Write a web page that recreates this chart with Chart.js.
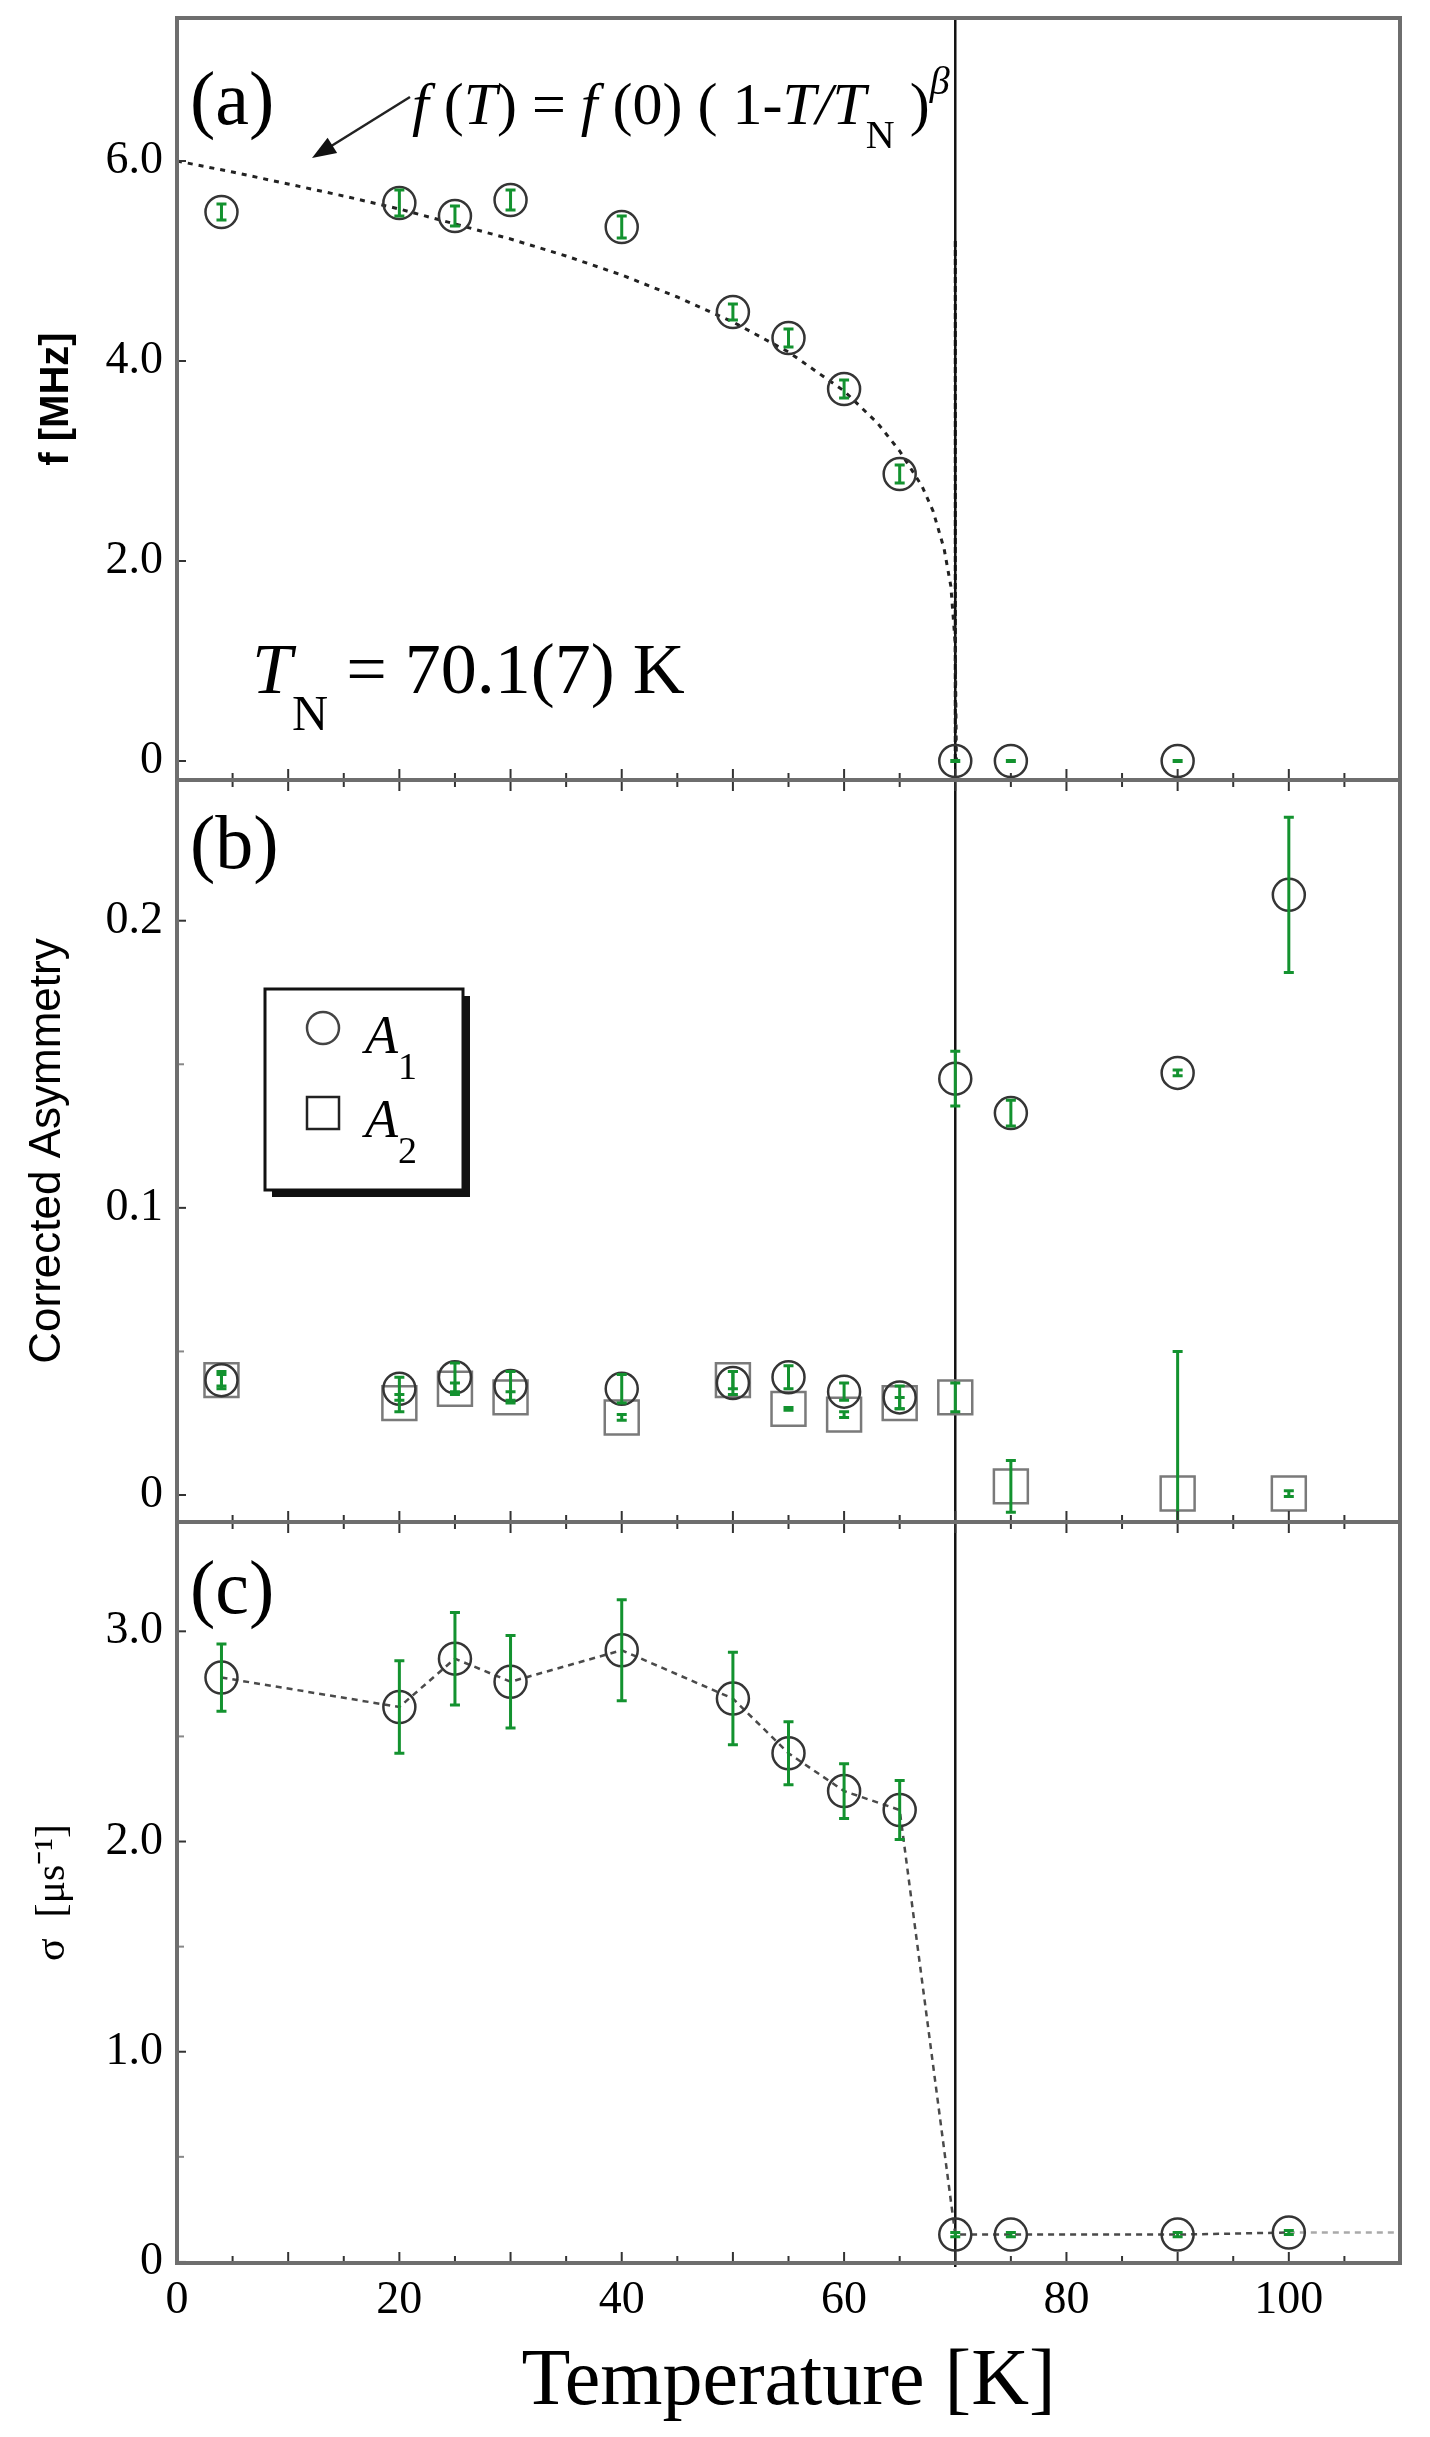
<!DOCTYPE html>
<html>
<head>
<meta charset="utf-8">
<script src="https://cdn.jsdelivr.net/npm/chart.js@4.4.1/dist/chart.umd.min.js"></script>
<style>
  body { margin: 0; background: #fff; }
  #wrap { position: relative; width: 1430px; height: 2437px; }
  canvas { position: absolute; left: 0; }
</style>
</head>
<body>
<div id="wrap">
  <canvas id="chartA" width="1430" height="790" style="top:0px"></canvas>
  <canvas id="chartB" width="1430" height="762" style="top:770px"></canvas>
  <canvas id="chartC" width="1430" height="925" style="top:1512px"></canvas>
</div>
<script>
// ---- values ----
// (a) precession frequency
const tempF = [4, 20, 25, 30, 40, 50, 55, 60, 65, 70, 75, 90];
const freqF = [5.49, 5.58, 5.45, 5.61, 5.34, 4.49, 4.23, 3.72, 2.87, 0.0, 0.0, 0.0];
const freqErr = [0.08, 0.13, 0.10, 0.10, 0.11, 0.08, 0.09, 0.09, 0.09, 0.004, 0.004, 0.004];
// dashed fit curve f(T) = f(0)(1-T/TN)^beta
const fitT = [0, 5, 10, 15, 20, 25, 30, 35, 40, 45, 50, 55, 60, 63, 65, 67, 68, 69, 69.6, 70, 70.1];
const fitF = [6.0, 5.89, 5.77, 5.65, 5.52, 5.37, 5.22, 5.05, 4.86, 4.64, 4.39, 4.09, 3.70, 3.38, 3.10, 2.75, 2.50, 2.12, 1.75, 1.17, 0];
const fitDropT = [70, 70];
const fitDropF = [5.2, 0];

// (b) corrected asymmetry
const tempA = [4, 20, 25, 30, 40, 50, 55, 60, 65, 70, 75, 90, 100];
const asymA1 = [0.040, 0.037, 0.041, 0.038, 0.037, 0.039, 0.041, 0.036, 0.034, 0.145, 0.133, 0.147, 0.209];
const asymA1Err = [0.003, 0.004, 0.005, 0.005, 0.005, 0.004, 0.004, 0.003, 0.004, 0.0095, 0.0045, 0.001, 0.027];
const asymA2 = [0.040, 0.032, 0.037, 0.034, 0.027, 0.040, 0.030, 0.028, 0.032, 0.034, 0.003, 0.0005, 0.0005];
const asymA2Err = [0.002, 0.003, 0.002, 0.002, 0.001, 0.003, 0.0005, 0.001, 0.002, 0.005, 0.009, 0.0495, 0.001];

// (c) relaxation rate sigma
const tempS = [4, 20, 25, 30, 40, 50, 55, 60, 65, 70, 75, 90, 100];
const sigma = [2.78, 2.64, 2.87, 2.76, 2.91, 2.68, 2.42, 2.24, 2.15, 0.13, 0.13, 0.13, 0.14];
const sigmaErr = [0.16, 0.22, 0.22, 0.22, 0.24, 0.22, 0.15, 0.13, 0.14, 0.01, 0.01, 0.01, 0.01];
const sigmaTailT = [100, 110];
const sigmaTailV = [0.14, 0.14];

// axes
const xTickVals = [0, 20, 40, 60, 80, 100];
const xTickMarks = [5, 10, 15, 20, 25, 30, 35, 40, 45, 50, 55, 60, 65, 70, 75, 80, 85, 90, 95, 100, 105];
const yTicksF = [0, 2, 4, 6];
const yTicksA = [0, 0.1, 0.2];
const yMinorA = [0.05, 0.15];
const yTicksS = [0, 1, 2, 3];
const yMinorS = [0.5, 1.5, 2.5];
const neelT = 70;

const errColor = '#13922f';
const pts = (xs, ys) => xs.map((x, i) => ({x: x, y: ys[i]}));

Chart.defaults.font.family = '"Liberation Serif", "Times New Roman", serif';
Chart.defaults.color = '#000';
Chart.defaults.animation = false;

// box, inside ticks and the vertical line at T_N
const framePlugin = {
  id: 'frame',
  beforeDatasetsDraw(chart, args, opts) {
    const {ctx, chartArea: a, scales: {x}} = chart;
    const px = x.getPixelForValue(neelT);
    ctx.save();
    ctx.strokeStyle = '#111';
    ctx.lineWidth = 2.5;
    ctx.beginPath();
    ctx.moveTo(px, a.top);
    ctx.lineTo(px, a.bottom + (opts.lineExtra || 0));
    ctx.stroke();
    ctx.restore();
  },
  afterDraw(chart, args, opts) {
    const {ctx, chartArea: a, scales: {x, y}} = chart;
    ctx.save();
    ctx.strokeStyle = '#333';
    ctx.lineWidth = 2;
    xTickMarks.forEach(v => {
      const px = x.getPixelForValue(v);
      const len = v % 10 === 0 ? 11 : 7;
      ctx.beginPath();
      ctx.moveTo(px, a.bottom);
      ctx.lineTo(px, a.bottom - len);
      if (opts.topTicks) {
        ctx.moveTo(px, a.top);
        ctx.lineTo(px, a.top + len);
      }
      ctx.stroke();
    });
    (opts.yMajor || []).forEach(v => {
      const py = y.getPixelForValue(v);
      ctx.beginPath(); ctx.moveTo(a.left, py); ctx.lineTo(a.left + 9, py); ctx.stroke();
    });
    ctx.strokeStyle = '#888';
    (opts.yMinor || []).forEach(v => {
      const py = y.getPixelForValue(v);
      ctx.beginPath(); ctx.moveTo(a.left, py); ctx.lineTo(a.left + 7, py); ctx.stroke();
    });
    ctx.strokeStyle = '#6e6e6e';
    ctx.lineWidth = 4;
    ctx.strokeRect(a.left, a.top, a.right - a.left, a.bottom - a.top);
    ctx.restore();
  }
};

const errorBarPlugin = {
  id: 'errorBars',
  afterDatasetsDraw(chart) {
    const {ctx, chartArea: a} = chart;
    ctx.save();
    ctx.beginPath();
    ctx.rect(a.left, a.top, a.right - a.left, a.bottom - a.top);
    ctx.clip();
    ctx.strokeStyle = errColor;
    ctx.lineWidth = 3;
    chart.data.datasets.forEach((ds, di) => {
      if (!ds.errors) return;
      const meta = chart.getDatasetMeta(di);
      const xs = chart.scales[meta.xAxisID], ys = chart.scales[meta.yAxisID];
      ds.data.forEach((p, i) => {
        const e = ds.errors[i];
        const px = xs.getPixelForValue(p.x);
        const top = ys.getPixelForValue(p.y + e);
        const bot = ys.getPixelForValue(p.y - e);
        ctx.beginPath();
        ctx.moveTo(px, top); ctx.lineTo(px, bot);
        ctx.moveTo(px - 5, top); ctx.lineTo(px + 5, top);
        ctx.moveTo(px - 5, bot); ctx.lineTo(px + 5, bot);
        ctx.stroke();
      });
    });
    ctx.restore();
  }
};

// text runs: [{t, font, dy}]
function drawRuns(ctx, x, y, runs) {
  runs.forEach(r => {
    ctx.font = r.font;
    ctx.fillText(r.t, x, y + (r.dy || 0));
    x += ctx.measureText(r.t).width;
  });
}

const textPlugin = {
  id: 'notes',
  afterDraw(chart, args, opts) {
    const ctx = chart.ctx;
    ctx.save();
    ctx.fillStyle = '#000';
    ctx.textBaseline = 'alphabetic';
    ctx.textAlign = 'left';
    if (opts.draw) opts.draw(ctx);
    ctx.restore();
  }
};

const SERIF = '"Liberation Serif"';
const it = s => 'italic ' + s + 'px ' + SERIF;
const up = s => s + 'px ' + SERIF;

function circleSet(data, errors) {
  return {
    data: data, errors: errors, order: 0,
    pointStyle: 'circle', pointRadius: 16, pointHoverRadius: 16,
    pointBorderColor: '#353535', pointBorderWidth: 2.5,
    pointBackgroundColor: 'rgba(0,0,0,0)', showLine: false
  };
}

function makeChart(id, datasets, yOpts, xOpts, padding, plugOpts) {
  return new Chart(document.getElementById(id), {
    type: 'scatter',
    data: {datasets: datasets},
    options: {
      responsive: false,
      layout: {padding: padding, autoPadding: false},
      plugins: {
        legend: {display: false},
        tooltip: {enabled: false},
        frame: plugOpts.frame,
        notes: plugOpts.notes
      },
      scales: {x: xOpts, y: yOpts}
    },
    plugins: [framePlugin, errorBarPlugin, textPlugin]
  });
}

const hiddenX = {type: 'linear', min: 0, max: 110, display: false};
const fmt = v => v === 0 ? '0' : v.toFixed(1);
function yAxis(min, max, vals, title) {
  return {
    type: 'linear', min: min, max: max,
    afterBuildTicks: s => { s.ticks = vals.map(v => ({value: v})); },
    afterFit: s => { s.width = 177; s.paddingTop = 0; s.paddingBottom = 0; },
    grid: {display: false, drawTicks: false},
    border: {display: false},
    ticks: {font: {size: 46}, padding: 14, callback: v => fmt(v)},
    title: title
  };
}

// ---- (a) ----
makeChart('chartA', [
  circleSet(pts(tempF, freqF), freqErr),
  {data: pts(fitT, fitF), showLine: true, order: 1, borderColor: '#222', borderWidth: 3,
   borderDash: [5, 6], pointRadius: 0, tension: 0},
  {data: pts(fitDropT, fitDropF), showLine: true, order: 1, borderColor: '#111', borderWidth: 3,
   borderDash: [6, 3], pointRadius: 0}
], yAxis(-0.19, 7.43, yTicksF, {display: true, text: 'f [MHz]',
   font: {family: '"Liberation Sans"', size: 40, weight: 'bold'}, padding: {top: 33, bottom: 0}}),
   hiddenX, {top: 18, bottom: 10, left: 0, right: 30},
{
  frame: {yMajor: yTicksF, topTicks: false},
  notes: {draw: ctx => {
    ctx.font = up(76);
    ctx.fillText('(a)', 190, 124);
    drawRuns(ctx, 412, 124, [
      {t: 'f', font: it(60)}, {t: ' (', font: up(60)}, {t: 'T', font: it(60)},
      {t: ') = ', font: up(60)}, {t: 'f', font: it(60)}, {t: ' (0) ( 1-', font: up(60)},
      {t: 'T/T', font: it(60)}, {t: 'N', font: up(40), dy: 24}, {t: ' )', font: up(60)},
      {t: '\u03B2', font: it(40), dy: -30}
    ]);
    // arrow towards the fit curve
    const x1 = 410, y1 = 97, x2 = 312, y2 = 158;
    const ang = Math.atan2(y2 - y1, x2 - x1);
    ctx.strokeStyle = '#222'; ctx.lineWidth = 2.5;
    ctx.beginPath(); ctx.moveTo(x1, y1);
    ctx.lineTo(x2 - 18 * Math.cos(ang), y2 - 18 * Math.sin(ang)); ctx.stroke();
    ctx.fillStyle = '#111';
    ctx.beginPath();
    ctx.moveTo(x2, y2);
    ctx.lineTo(x2 - 24 * Math.cos(ang) + 9 * Math.sin(ang), y2 - 24 * Math.sin(ang) - 9 * Math.cos(ang));
    ctx.lineTo(x2 - 24 * Math.cos(ang) - 9 * Math.sin(ang), y2 - 24 * Math.sin(ang) + 9 * Math.cos(ang));
    ctx.closePath(); ctx.fill();
    ctx.fillStyle = '#000';
    drawRuns(ctx, 252, 693, [
      {t: 'T', font: it(72)}, {t: 'N', font: up(50), dy: 37}, {t: ' = 70.1(7) K', font: up(72)}
    ]);
  }}
});

// ---- (b) ----
makeChart('chartB', [
  circleSet(pts(tempA, asymA1), asymA1Err),
  {data: pts(tempA, asymA2), errors: asymA2Err, order: 0, pointStyle: 'rect', pointRadius: 24,
   pointHoverRadius: 24, pointBorderColor: '#7a7a7a', pointBorderWidth: 2.5,
   pointBackgroundColor: 'rgba(0,0,0,0)', showLine: false}
], yAxis(-0.0094, 0.249, yTicksA, {display: true, text: 'Corrected Asymmetry',
   font: {family: '"Liberation Sans"', size: 44}, padding: {top: 21, bottom: 0}}),
   hiddenX, {top: 10, bottom: 10, left: 0, right: 30},
{
  frame: {yMajor: yTicksA, yMinor: yMinorA, topTicks: true},
  notes: {draw: ctx => {
    ctx.font = up(76);
    ctx.fillText('(b)', 190, 98);
    // legend box with shadow
    ctx.fillStyle = '#111';
    ctx.fillRect(272, 226, 198, 201);
    ctx.fillStyle = '#fff';
    ctx.fillRect(265, 219, 198, 201);
    ctx.strokeStyle = '#111'; ctx.lineWidth = 3;
    ctx.strokeRect(265, 219, 198, 201);
    ctx.strokeStyle = '#444'; ctx.lineWidth = 2.5;
    ctx.beginPath(); ctx.arc(323, 258, 16, 0, 2 * Math.PI); ctx.stroke();
    ctx.strokeStyle = '#222';
    ctx.strokeRect(307, 327, 32, 32);
    ctx.fillStyle = '#000';
    drawRuns(ctx, 365, 283, [{t: 'A', font: it(54)}, {t: '1', font: up(38), dy: 26}]);
    drawRuns(ctx, 365, 367, [{t: 'A', font: it(54)}, {t: '2', font: up(38), dy: 26}]);
  }}
});

// ---- (c) ----
makeChart('chartC', [
  circleSet(pts(tempS, sigma), sigmaErr),
  {data: pts(tempS, sigma), showLine: true, order: 1, borderColor: '#4a4a4a', borderWidth: 2.5,
   borderDash: [6, 5], pointRadius: 0},
  {data: pts(sigmaTailT, sigmaTailV), showLine: true, order: 1, borderColor: '#aaa', borderWidth: 2.5,
   borderDash: [6, 5], pointRadius: 0}
], yAxis(-0.005, 3.52, yTicksS, {display: true, text: '\u03C3  [\u03BCs\u207B\u00B9]',
   font: {size: 42}, padding: {top: 28, bottom: 0}}),
{
  type: 'linear', min: 0, max: 110, position: 'bottom',
  afterBuildTicks: s => { s.ticks = xTickVals.map(v => ({value: v})); },
  afterFit: s => { s.height = 174; s.paddingLeft = 0; s.paddingRight = 0; },
  grid: {display: false, drawTicks: false},
  border: {display: false},
  ticks: {font: {size: 46}, padding: 10, maxRotation: 0, autoSkip: false},
  title: {display: true, text: 'Temperature [K]', font: {size: 80}, padding: {top: 0, bottom: 6}}
}, {top: 10, bottom: 0, left: 0, right: 30},
{
  frame: {yMajor: yTicksS, yMinor: yMinorS, topTicks: true, lineExtra: 4},
  notes: {draw: ctx => {
    ctx.font = up(76);
    ctx.fillText('(c)', 190, 101);
  }}
});
</script>
</body>
</html>
